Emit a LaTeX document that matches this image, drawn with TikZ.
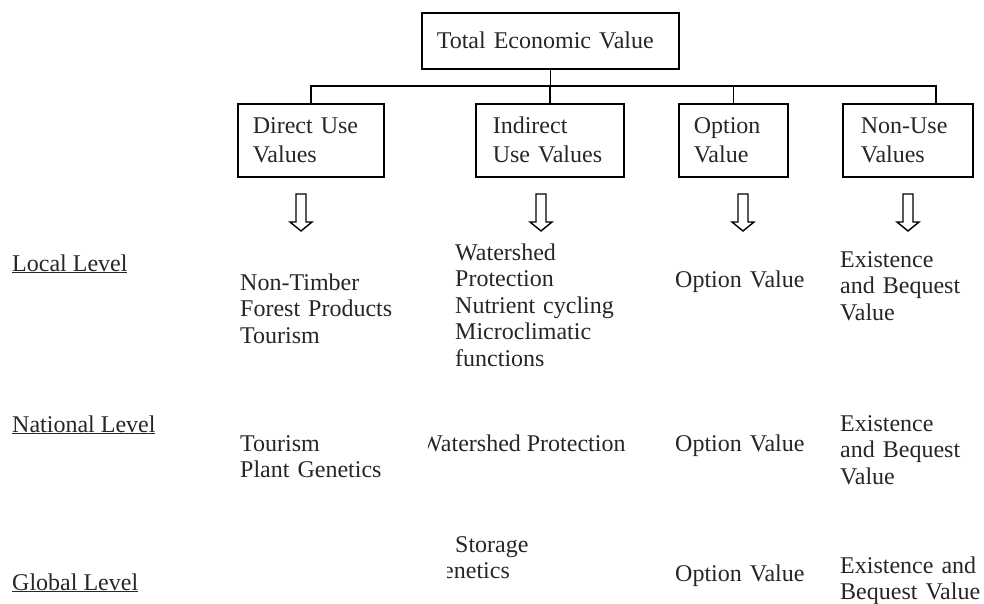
\documentclass[tikz,border=0pt]{standalone}
\usepackage{fontspec}
\setmainfont{Liberation Serif}
\begin{document}
\begin{tikzpicture}[x=1pt,y=-1pt,
  every node/.style={text=black!85},
  box/.style={draw=black, line width=1.6pt, minimum height=73pt, inner xsep=15pt, inner ysep=0pt,
    align=left, font=\fontsize{24}{29}\selectfont, anchor=north west},
  txt/.style={inner sep=0pt, align=left, text width=260pt, anchor=base west,
    font=\fontsize{24}{26.5}\selectfont},
  lvl/.style={inner sep=0pt, anchor=base west, font=\fontsize{24}{26.5}\selectfont},
  conn/.style={draw=black, line width=1.6pt},
  downarrow/.pic={\draw[black, line width=1.4pt, line join=miter]
     (-5,0) -- (5,0) -- (5,28) -- (11,28) -- (0,37) -- (-11,28) -- (-5,28) -- cycle;}
]
\useasboundingbox (0,0) rectangle (984,604);

% top box
\node[box, minimum height=56pt, text width=227pt] (tev) at (421,12) {Total Economic Value};

% child boxes
\node[box, text width=116pt] (direct) at (237,103) {Direct Use\\Values};
\node[box, inner xsep=17pt, text width=114pt] (indirect) at (475,103) {Indirect\\Use Values};
\node[box, text width=79pt] (option) at (678,103) {Option\\Value};
\node[box, inner xsep=18pt, text width=94pt] (nonuse) at (842,103) {Non-Use\\Values};

% connectors
\coordinate (bus) at (0,86);
\coordinate (nuDrop) at ([xshift=28pt]nonuse.north);
\draw[conn] (tev.south) -- (tev.south |- bus);
\draw[conn] (direct.north) -- (direct.north |- bus) -- (nuDrop |- bus) -- (nuDrop);
\draw[conn] (indirect.north) -- (indirect.north |- bus);
\draw[conn] (option.north) -- (option.north |- bus);

% hollow down arrows
\pic (a1) at (301,194) {downarrow};
\pic (a2) at (541,194) {downarrow};
\pic (a3) at (743,194) {downarrow};
\pic (a4) at (908,194) {downarrow};

% level labels
\node[lvl] (local) at (12,271) {\underline{Local Level}};
\node[lvl] (national) at (12,432) {\underline{National Level}};
\node[lvl] (global) at (12,590) {\underline{Global Level}};

% local level
\node[txt] (dloc) at (240,290) {Non-Timber\\Forest Products\\Tourism};
\node[txt] (iloc) at (455,260) {Watershed\\Protection\\Nutrient cycling\\Microclimatic\\functions};
\node[txt] (oloc) at (675,287) {Option Value};
\node[txt] (nloc) at (840,267) {Existence\\and Bequest\\Value};

% national level
\node[txt] (dnat) at (240,451) {Tourism\\Plant Genetics};
\begin{scope}
  \clip (428,420) rectangle (670,470);
  \node[inner sep=0pt, anchor=base west, font=\fontsize{24}{26.5}\selectfont] (inat) at (420,451) {Watershed Protection};
\end{scope}
\node[txt] (onat) at (675,451) {Option Value};
\node[txt] (nnat) at (840,431) {Existence\\and Bequest\\Value};

% global level
\node[txt] (iglo1) at (455,552) {Storage};
\begin{scope}
  \clip (447,555) rectangle (600,590);
  \node[txt] (iglo2) at (443,578) {enetics};
\end{scope}
\node[txt] (oglo) at (675,581) {Option Value};
\node[txt] (nglo) at (840,573) {Existence and\\Bequest Value};
\end{tikzpicture}
\end{document}
